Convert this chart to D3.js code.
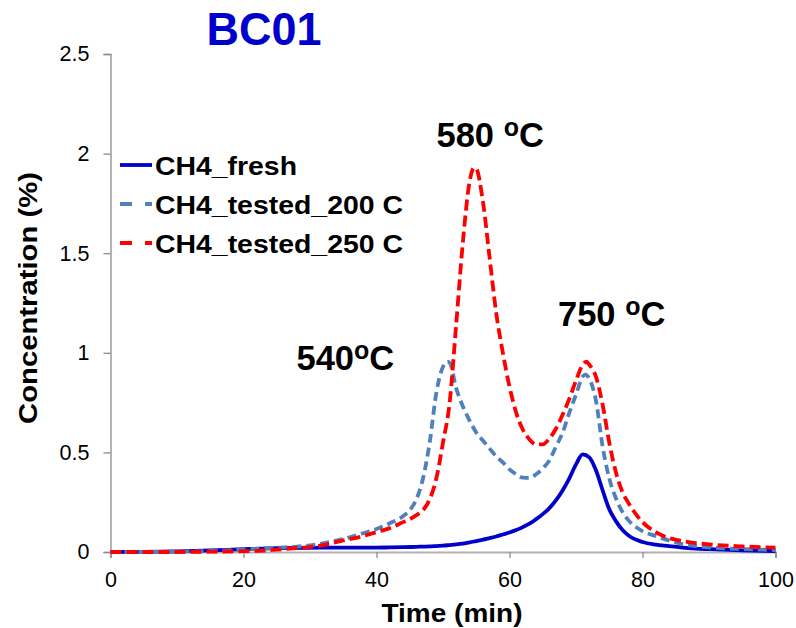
<!DOCTYPE html>
<html>
<head>
<meta charset="utf-8">
<script src="https://cdn.jsdelivr.net/npm/d3@7"></script>
<style>
  html, body { margin: 0; padding: 0; background: #fff; }
  svg { display: block; font-family: "Liberation Sans", Arial, sans-serif; }
</style>
</head>
<body>
<svg id="chart" width="796" height="628"></svg>
<script>
// ---- data ----
const xTicks = [0, 20, 40, 60, 80, 100];
const yTicks = [0, 0.5, 1, 1.5, 2, 2.5];
const yTickLabels = ["0", "0.5", "1", "1.5", "2", "2.5"];
const seriesNames = ["CH4_fresh", "CH4_tested_200 C", "CH4_tested_250 C"];

const freshTime = [0,5,10,15,20,25,30,35,40,42,44,46,47,48,49,50,51,52,53,54,55,56,57,58,59,60,61,62,63,64,65,66,67,68,69,70,71,72,73,74,75,76,77,78,80,82,84,86,88,90,95,100];
const freshConc = [0,0.001,0.003,0.008,0.014,0.019,0.021,0.022,0.022,0.023,0.024,0.026,0.027,0.028,0.030,0.032,0.035,0.038,0.042,0.048,0.055,0.062,0.070,0.078,0.088,0.098,0.110,0.125,0.142,0.165,0.190,0.220,0.260,0.310,0.370,0.440,0.490,0.475,0.410,0.310,0.215,0.155,0.110,0.080,0.050,0.037,0.030,0.022,0.017,0.014,0.008,0.005];

const t200Time = [0,5,10,15,20,25,28,30,33,35,38,40,42,44,45,46,47,48,49,50,50.7,51,52,53,54,55,56,57,58,59,60,61,62,63,64,65,66,67,68,69,70,71,71.4,72,73,74,75,76,77,78,80,82,84,86,88,90,95,100];
const t200Conc = [0,0,0.002,0.005,0.012,0.022,0.027,0.033,0.050,0.065,0.094,0.115,0.144,0.180,0.210,0.265,0.370,0.550,0.800,0.930,0.955,0.950,0.820,0.730,0.660,0.600,0.560,0.520,0.480,0.450,0.415,0.390,0.373,0.372,0.390,0.420,0.460,0.530,0.600,0.700,0.790,0.880,0.890,0.870,0.760,0.530,0.370,0.270,0.200,0.155,0.105,0.080,0.058,0.040,0.030,0.023,0.015,0.010];

const t250Time = [0,5,10,15,20,23,25,28,30,32,35,38,40,42,44,45,46,47,48,49,50,51,52,53,54,54.7,55,56,57,58,59,60,61,62,63,64,65,66,67,68,69,70,71,71.6,72,73,74,75,76,77,78,80,82,84,86,88,90,95,100];
const t250Conc = [0,0,0,0.002,0.004,0.007,0.012,0.020,0.025,0.035,0.058,0.080,0.100,0.120,0.150,0.165,0.185,0.210,0.265,0.370,0.550,0.750,1.150,1.560,1.860,1.930,1.925,1.760,1.480,1.200,1.000,0.830,0.700,0.615,0.565,0.540,0.540,0.570,0.620,0.690,0.770,0.860,0.940,0.955,0.940,0.880,0.740,0.550,0.400,0.300,0.240,0.150,0.100,0.070,0.055,0.045,0.038,0.028,0.022];

const annotations = [
  { main: "540", sup: "o", tail: "C", x: 296.5, y: 369.5 },
  { main: "580 ", sup: "o", tail: "C", x: 436.5, y: 147 },
  { main: "750 ", sup: "o", tail: "C", x: 558, y: 326 }
];

// ---- chart ----
const svg = d3.select("#chart");
const x = d3.scaleLinear().domain([0, 100]).range([110.5, 775.5]);
const y = d3.scaleLinear().domain([0, 2.5]).range([552, 54]);

// title
svg.append("text").attr("x", 264).attr("y", 45).attr("text-anchor", "middle")
  .attr("font-size", 46).attr("font-weight", "bold").attr("fill", "#0000CC")
  .attr("textLength", 115).attr("lengthAdjust", "spacingAndGlyphs").text("BC01");

// x axis
const xAxis = svg.append("g").attr("transform", "translate(0,552)")
  .call(d3.axisBottom(x).tickValues(xTicks).tickSize(6).tickPadding(14).tickFormat(d3.format("d")));
xAxis.select(".domain").attr("stroke", "#b0b0b0").attr("stroke-width", 2);
xAxis.selectAll(".tick line").attr("stroke", "#8c8c8c").attr("stroke-width", 1.3);
xAxis.selectAll(".tick text").attr("font-size", 21.5).attr("fill", "#000")
  .attr("font-family", "Liberation Sans, Arial, sans-serif");

// y axis
const yAxis = svg.append("g").attr("transform", "translate(110.5,0)")
  .call(d3.axisLeft(y).tickValues(yTicks).tickSize(7).tickPadding(14)
    .tickFormat((d, i) => yTickLabels[i]));
yAxis.select(".domain").attr("stroke", "#8c8c8c").attr("stroke-width", 1.3);
yAxis.selectAll(".tick line").attr("stroke", "#8c8c8c").attr("stroke-width", 1.3);
yAxis.selectAll(".tick text").attr("font-size", 21.5).attr("fill", "#000")
  .attr("font-family", "Liberation Sans, Arial, sans-serif");

// axis titles
svg.append("text").attr("x", 452).attr("y", 621.5).attr("text-anchor", "middle")
  .attr("font-size", 26).attr("font-weight", "bold")
  .attr("textLength", 141).attr("lengthAdjust", "spacingAndGlyphs").text("Time (min)");
svg.append("text").attr("transform", "translate(36.5,298) rotate(-90)")
  .attr("text-anchor", "middle").attr("font-size", 26).attr("font-weight", "bold")
  .attr("textLength", 252).attr("lengthAdjust", "spacingAndGlyphs").text("Concentration (%)");

// series
const series = [
  { name: seriesNames[0], t: freshTime, c: freshConc, color: "#0000CC", dash: null, width: 3.8 },
  { name: seriesNames[1], t: t200Time, c: t200Conc, color: "#4F81BD", dash: "9,5", width: 3.8 },
  { name: seriesNames[2], t: t250Time, c: t250Conc, color: "#FF0000", dash: "11,5", width: 3.8 }
];
const line = d3.line().x(d => x(d[0])).y(d => y(d[1])).curve(d3.curveMonotoneX);

series.forEach(s => {
  const pts = s.t.map((t, i) => [t, s.c[i]]);
  const p = svg.append("path").datum(pts).attr("d", line)
    .attr("fill", "none").attr("stroke", s.color).attr("stroke-width", s.width)
    .attr("stroke-linejoin", "round");
  if (s.dash) p.attr("stroke-dasharray", s.dash);
});

// legend
const legendY = [165, 204, 243];
const legendW = [142, 248, 248];
series.forEach((s, i) => {
  const l = svg.append("line").attr("x1", 120).attr("x2", 152)
    .attr("y1", legendY[i]).attr("y2", legendY[i])
    .attr("stroke", s.color).attr("stroke-width", s.width);
  if (s.dash) l.attr("stroke-dasharray", "12,13");
  svg.append("text").attr("x", 155).attr("y", legendY[i] + 9.5)
    .attr("font-size", 26).attr("font-weight", "bold").attr("fill", "#000")
    .attr("textLength", legendW[i]).attr("lengthAdjust", "spacingAndGlyphs")
    .text(s.name);
});

// peak annotations
annotations.forEach(a => {
  const t = svg.append("text").attr("x", a.x).attr("y", a.y)
    .attr("font-size", 34.5).attr("font-weight", "bold").attr("fill", "#000");
  t.append("tspan").text(a.main);
  t.append("tspan").attr("font-size", 25).attr("dy", -11).text(a.sup);
  t.append("tspan").attr("dy", 11).text(a.tail);
});
</script>
</body>
</html>
